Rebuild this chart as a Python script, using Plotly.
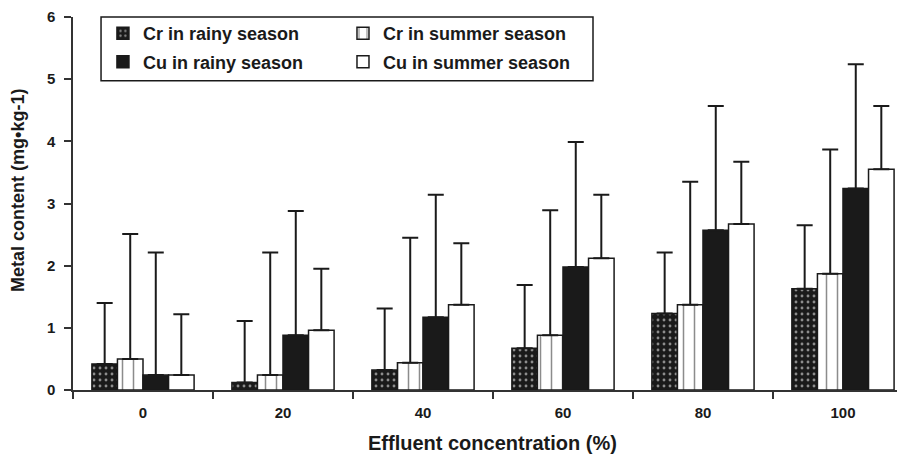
import plotly.graph_objects as go

# values (mg/kg), bar height and top of error bar
concentrations = ["0", "20", "40", "60", "80", "100"]

cr_rainy = [0.42, 0.12, 0.32, 0.67, 1.23, 1.63]
cr_rainy_top = [1.40, 1.11, 1.31, 1.69, 2.21, 2.65]

cr_summer = [0.50, 0.24, 0.44, 0.88, 1.37, 1.87]
cr_summer_top = [2.51, 2.21, 2.45, 2.89, 3.35, 3.87]

cu_rainy = [0.24, 0.88, 1.17, 1.98, 2.57, 3.24]
cu_rainy_top = [2.21, 2.88, 3.14, 3.99, 4.57, 5.24]

cu_summer = [0.24, 0.96, 1.37, 2.12, 2.67, 3.55]
cu_summer_top = [1.22, 1.95, 2.36, 3.14, 3.67, 4.57]

INK = "#1a1a1a"
FONT = "Liberation Sans, Arial, sans-serif"


def plus_err(vals, tops):
    return dict(
        type="data",
        symmetric=False,
        array=[t - v for v, t in zip(vals, tops)],
        arrayminus=[0] * len(vals),
        color=INK,
        thickness=2,
        width=8,
    )


series = [
    ("Cr in rainy season", cr_rainy, cr_rainy_top, INK,
     dict(shape=".", fgcolor="white", size=6, solidity=0.18, fillmode="overlay"), "legend"),
    ("Cr in summer season", cr_summer, cr_summer_top, "white",
     dict(shape="|", fgcolor=INK, size=11, solidity=0.14, fillmode="overlay"), "legend2"),
    ("Cu in rainy season", cu_rainy, cu_rainy_top, INK, None, "legend"),
    ("Cu in summer season", cu_summer, cu_summer_top, "white", None, "legend2"),
]

fig = go.Figure()
for i, (name, vals, tops, color, pattern, leg) in enumerate(series):
    marker = dict(color=color, line=dict(color=INK, width=1.5))
    if pattern:
        marker["pattern"] = pattern
    fig.add_bar(
        x=concentrations,
        y=vals,
        name=name,
        marker=marker,
        error_y=plus_err(vals, tops),
        legend=leg,
        legendgroup=f"g{i}",
    )

legend_style = dict(
    orientation="v",
    yanchor="top",
    y=1.005,
    xanchor="left",
    bgcolor="rgba(0,0,0,0)",
    borderwidth=0,
    tracegroupgap=2,
    font=dict(family=FONT, size=18, color=INK, weight="bold"),
)

# the page body adds an 8px offset, so the figure is 8px smaller each way
fig.update_layout(
    width=897,
    height=446,
    template="plotly_white",
    paper_bgcolor="white",
    plot_bgcolor="white",
    font=dict(family=FONT, color=INK, weight="bold"),
    margin=dict(l=65, r=0, t=9, b=64, autoexpand=False),
    barmode="group",
    bargap=0.27,
    bargroupgap=0,
    showlegend=True,
    legend=dict(x=0.036, **legend_style),
    legend2=dict(x=0.3245, **legend_style),
    shapes=[
        dict(type="rect", xref="paper", yref="paper", x0=0.0337, x1=0.625, y0=0.829, y1=1.0,
             line=dict(color=INK, width=1.5), fillcolor="rgba(0,0,0,0)", layer="above"),
    ],
    annotations=[
        dict(text="Effluent concentration (%)", xref="x", yref="paper", x=2.5, y=-0.142,
             showarrow=False, yanchor="middle", font=dict(family=FONT, size=20, color=INK, weight="bold")),
        dict(text="Metal content (mg•kg-1)", xref="paper", yref="paper", x=-0.066, y=0.534,
             textangle=-90, showarrow=False, xanchor="center", yanchor="middle",
             font=dict(family=FONT, size=18, color=INK, weight="bold")),
    ],
)

fig.update_xaxes(
    type="category",
    range=[-0.5, 5.443],
    showgrid=False,
    zeroline=False,
    showline=True,
    linecolor="#333333",
    linewidth=1.5,
    ticks="outside",
    tickson="boundaries",
    ticklen=7,
    tickwidth=1.5,
    tickcolor="#333333",
    ticklabelstandoff=8,
    automargin=False,
    tickfont=dict(family=FONT, size=15, color=INK, weight="bold"),
)
fig.update_yaxes(
    range=[0, 6],
    dtick=1,
    showgrid=False,
    zeroline=False,
    showline=True,
    linecolor="#333333",
    linewidth=1.5,
    ticks="outside",
    ticklen=7,
    tickwidth=1.5,
    tickcolor="#333333",
    ticklabelstandoff=6,
    automargin=False,
    tickfont=dict(family=FONT, size=15, color=INK, weight="bold"),
)

fig.write_html("out.html")
